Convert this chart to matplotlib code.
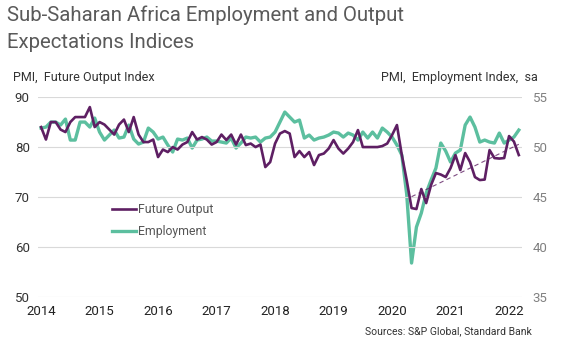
import numpy as np
import matplotlib
matplotlib.use("Agg")
import matplotlib.pyplot as plt

plt.rcParams['font.family'] = ['Roboto', 'DejaVu Sans']

# monthly PMI readings, Jan 2014 - Mar 2022
future_output = [
    84, 81.5, 85, 85, 83.5, 83, 85, 86, 86, 86, 88, 84,
    85, 84.5, 83.5, 82.5, 84.5, 85.5, 83, 86, 82.5, 81, 81, 81.5,
    78, 79.5, 79, 80, 79.5, 80.5, 81, 83, 81.5, 82, 81.5, 80.5,
    81, 82.5, 81.4, 82.5, 80.5, 82.5, 80.4, 80.7, 80, 80.5, 76, 77,
    80.7, 82.7, 83.2, 82.7, 78, 79.2, 78, 79, 76.4, 78.4, 78.7, 79.7,
    81.4, 79.7, 78.7, 79.7, 81, 83.4, 80, 80, 80, 80, 80.2, 80.7,
    82.4, 84.4, 78.4, 73.4, 67.8, 67.6, 71.6, 68.8, 72.4, 74.8, 74.5, 74,
    75.8, 78.4, 75.4, 78.8, 77, 74, 73.4, 73.5, 79.4, 77.8, 77.7, 77.8,
    82.2, 81.1, 78.4,
]
employment = [
    51.9, 52, 52.5, 52.5, 52.2, 52.8, 50.7, 50.7, 52.5, 52.5, 52, 52.9,
    51.5, 50.7, 51.2, 51.7, 50.9, 51, 52.2, 50.8, 50.3, 50.5, 51.9, 51.5,
    50.8, 51, 50.2, 49.5, 50.8, 50.7, 50.9, 49.9, 50.7, 50.8, 51, 50.6,
    50.6, 50.5, 50.4, 50.9, 49.9, 50.4, 51, 50.9, 51, 50.5, 50.9, 51,
    51.5, 52.5, 53.5, 53, 52.5, 52.7, 50.9, 51.2, 50.7, 50.9, 51, 51.2,
    51.5, 51.4, 51, 51.4, 51.2, 50.7, 51.5, 50.9, 51.5, 50.9, 51.9, 51.5,
    51, 50.2, 49.2, 45.3, 38.4, 42, 43.4, 45.4, 46.7, 47.9, 50.4, 49.6,
    48.5, 49.4, 49.7, 52.2, 53, 52, 50.5, 50.7, 50.5, 50.4, 51.4, 50.4,
    50.7, 51, 51.7,
]
years = [2014, 2015, 2016, 2017, 2018, 2019, 2020, 2021, 2022]
left_ticks = [50, 60, 70, 80, 90]
right_ticks = [35, 40, 45, 50, 55]

purple = '#5e1f63'
teal = '#5cbf9f'

months = np.arange(len(future_output))

fig = plt.figure(figsize=(5.61, 3.43), dpi=100)
ax = fig.add_axes([0.068, 0.134, 0.862, 0.583])
ax2 = ax.twinx()

# employment on the right-hand scale, drawn under the output line
ax2.plot(months, employment, color=teal, lw=2.4, solid_joinstyle='round')
ax2.set_ylim(35, 55)
ax2.set_yticks(right_ticks)
ax.set_zorder(ax2.get_zorder() + 1)
ax.patch.set_visible(False)

ax.plot(months, future_output, color=purple, lw=1.9, solid_joinstyle='round',
        label='Future Output')
ax.plot([], [], color=teal, lw=2.4, label='Employment')

# linear trend of the output index since the covid low
start = 76
fit = np.polyfit(months[start:], future_output[start:], 1)
ax.plot(months[start:], np.polyval(fit, months[start:]), color=purple,
        lw=0.8, ls=(0, (4, 3)), alpha=0.8)

ax.set_ylim(50, 90)
ax.set_yticks(left_ticks)
ax.set_xlim(-0.6, 98.6)
ax.set_xticks([12 * i for i in range(len(years))])
ax.set_xticklabels([str(y) for y in years])
ax.grid(axis='y', color='#d9d9d9', lw=0.8)
ax2.grid(False)

for a in (ax, ax2):
    for s in a.spines.values():
        s.set_visible(False)
    a.tick_params(length=0)
ax.tick_params(axis='y', labelsize=9.5, colors='#333333', pad=6)
ax.tick_params(axis='x', labelsize=9.5, colors='#222222', pad=6)
ax2.tick_params(axis='y', labelsize=9.5, colors='#808080', pad=8)

leg = ax.legend(loc='upper left', bbox_to_anchor=(0.13, 0.525), frameon=False,
                handlelength=2.0, handletextpad=0.1, labelspacing=0.75,
                fontsize=8.8)
for t in leg.get_texts():
    t.set_color('#555555')

fig.text(0.012, 0.985, 'Sub-Saharan Africa Employment and Output\nExpectations Indices',
         ha='left', va='top', fontsize=14.7, color='#5a5a5a', linespacing=1.55)
fig.text(0.023, 0.775, 'PMI,  Future Output Index', ha='left', va='center',
         fontsize=9, color='#333333')
fig.text(0.958, 0.775, 'PMI,  Employment Index,  sa', ha='right', va='center',
         fontsize=9, color='#333333')
fig.text(0.948, 0.035, 'Sources: S&P Global, Standard Bank', ha='right',
         va='center', fontsize=7.5, color='#333333')

fig.savefig('out.png', dpi=100)
